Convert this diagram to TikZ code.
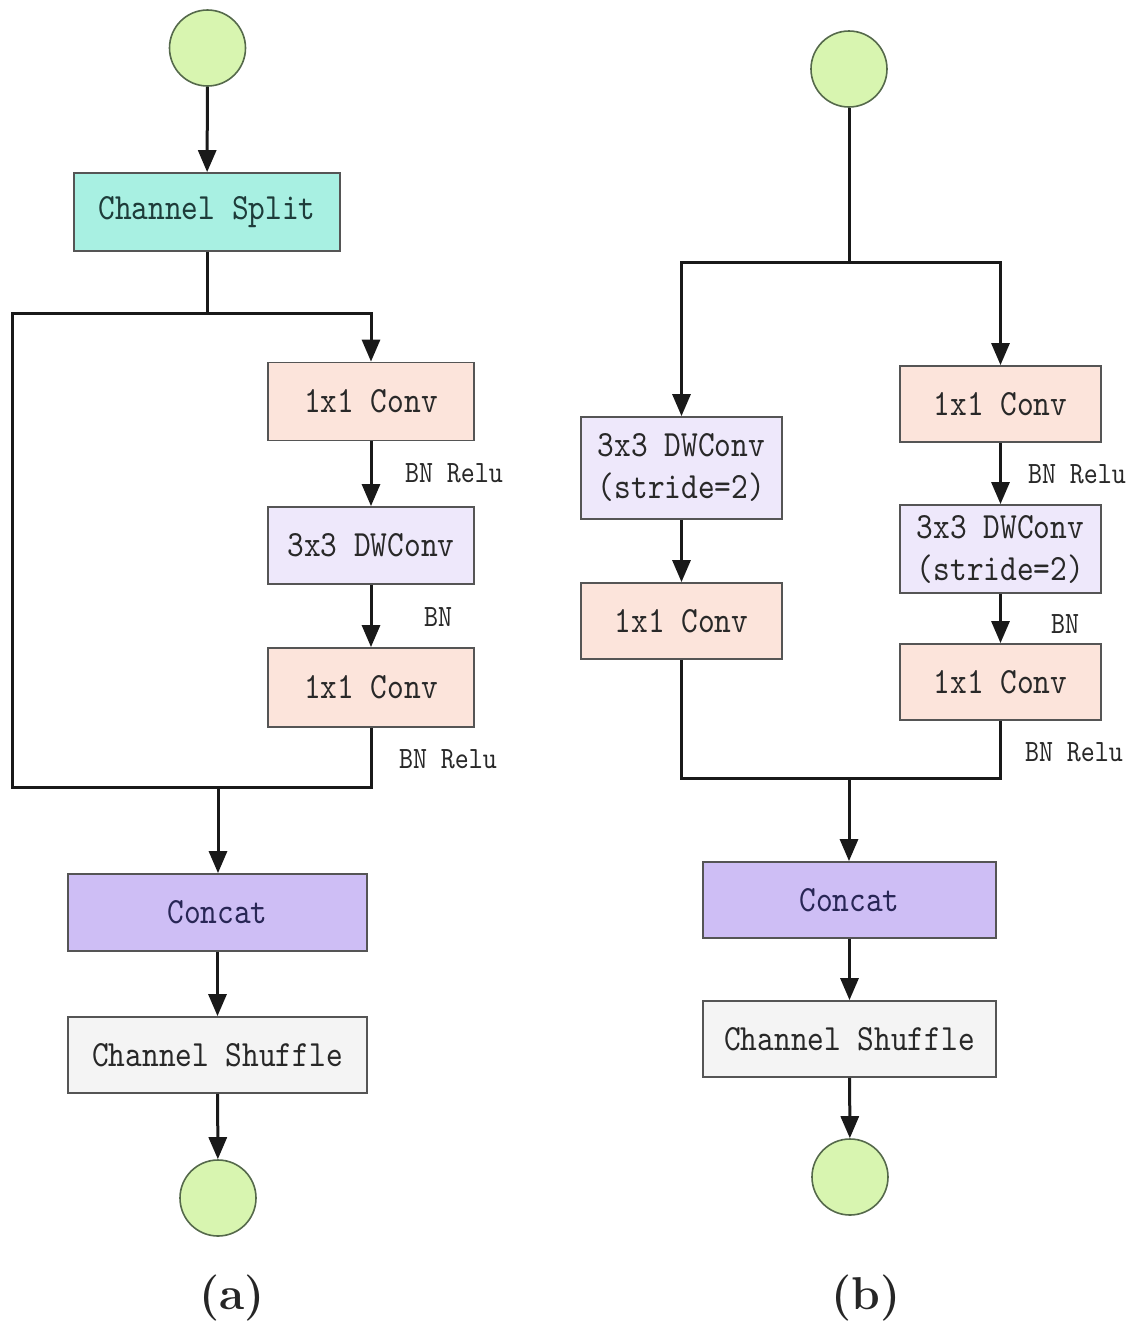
\documentclass[tikz,border=0pt]{standalone}
\usepackage{fontspec}
\usetikzlibrary{arrows.meta}
\newfontfamily\boxfont{lmmono10-regular.otf}[FakeStretch=0.86]

\definecolor{ioFill}{RGB}{216,245,176}
\definecolor{ioDraw}{RGB}{85,105,75}
\definecolor{splitFill}{RGB}{168,240,226}
\definecolor{splitText}{RGB}{30,60,58}
\definecolor{convFill}{RGB}{252,228,219}
\definecolor{dwFill}{RGB}{238,232,251}
\definecolor{catFill}{RGB}{206,190,245}
\definecolor{catText}{RGB}{40,38,85}
\definecolor{shufFill}{RGB}{244,244,244}
\definecolor{boxDraw}{RGB}{85,85,85}
\definecolor{txt}{RGB}{40,40,40}

\tikzset{
  io/.style={circle, draw=ioDraw, line width=1.6pt, fill=ioFill, minimum size=76pt, inner sep=0pt},
  block/.style={rectangle, draw=boxDraw, line width=1.8pt, inner sep=0pt, align=center,
    text=txt, font=\boxfont\fontsize{37}{42}\selectfont},
  wa/.style={block, minimum width=206pt},
  wb/.style={block, minimum width=201pt},
  conv/.style={fill=convFill, minimum height=78pt},
  dwc/.style={fill=dwFill},
  note/.style={text=txt, font=\boxfont\fontsize{31}{34}\selectfont, inner sep=0pt},
  link/.style={line width=3pt, draw=black!90, line join=miter},
  flow/.style={link, -{Triangle[length=22pt,width=18pt]}},
  tag/.style={font=\fontsize{46}{50}\selectfont\bfseries, text=black!85, inner sep=0pt}
}

\begin{document}
\begin{tikzpicture}[x=1pt,y=-1pt]
\useasboundingbox (0,0) rectangle (1142,1326);

% ---------------- unit (a) ----------------
\node[io] (ain) at (207.5,48) {};
\node[block, fill=splitFill, text=splitText, minimum width=266pt, minimum height=78pt] (split) at (207,212) {Channel Split};
\node[wa, conv] (ac1) at (371,401.5) {1x1 Conv};
\node[wa, dwc, minimum height=77pt] (adw) at (371,545.5) {3x3 DWConv};
\node[wa, conv, minimum height=79pt] (ac2) at (371,687.5) {1x1 Conv};
\node[block, fill=catFill, text=catText, minimum width=299pt, minimum height=77pt] (acat) at (217.5,912.5) {Concat};
\node[block, fill=shufFill, minimum width=299pt, minimum height=76pt] (ashuf) at (217.5,1055) {Channel Shuffle};
\node[io] (aout) at (218,1198) {};

\coordinate (aTL) at (12,313);
\coordinate (aBL) at (12,787);
\coordinate (aJoin) at (218,787);

\draw[flow] (ain) -- (split);
\draw[link] (split.south) -- (split.south |- aTL);
\draw[flow] (ac2.south) |- (aBL) -- (aTL) -| (ac1.north);
\draw[flow] (ac1) -- (adw);
\draw[flow] (adw) -- (ac2);
\draw[flow] (aJoin) -- (acat.north -| aJoin);
\draw[flow] (acat) -- (ashuf);
\draw[flow] (ashuf) -- (aout);

\node[note] (an1) at (454,473) {BN Relu};
\node[note] (an2) at (438,617) {BN};
\node[note] (an3) at (448,759) {BN Relu};

\node[tag] (la) at (232,1298) {(a)};

% ---------------- unit (b) ----------------
\node[io] (bin) at (849,69) {};
\node[wb, dwc, minimum height=102pt] (bdwl) at (681.5,468) {3x3 DWConv\\(stride=2)};
\node[wb, conv, minimum height=76pt] (bc1l) at (681.5,621) {1x1 Conv};
\node[wb, conv, minimum height=76pt] (bc1r) at (1000.5,404) {1x1 Conv};
\node[wb, dwc, minimum height=88pt] (bdwr) at (1000.5,549) {3x3 DWConv\\(stride=2)};
\node[wb, conv, minimum height=76pt] (bc2r) at (1000.5,682) {1x1 Conv};
\node[block, fill=catFill, text=catText, minimum width=293pt, minimum height=76pt] (bcat) at (849.5,900) {Concat};
\node[block, fill=shufFill, minimum width=293pt, minimum height=76pt] (bshuf) at (849.5,1039) {Channel Shuffle};
\node[io] (bout) at (850,1177) {};

\coordinate (bSplit) at (849,262);
\coordinate (bJoin) at (849,778);

\draw[link] (bin) -- (bSplit);
\draw[flow] (bSplit) -| (bdwl.north);
\draw[flow] (bSplit) -| (bc1r.north);
\draw[flow] (bdwl) -- (bc1l);
\draw[flow] (bc1r) -- (bdwr);
\draw[flow] (bdwr) -- (bc2r);
\draw[link] (bc1l.south) |- (bJoin) -| (bc2r.south);
\draw[flow] (bJoin) -- (bcat.north -| bJoin);
\draw[flow] (bcat) -- (bshuf);
\draw[flow] (bshuf) -- (bout);

\node[note] (bn1) at (1077,474) {BN Relu};
\node[note] (bn2) at (1065,624) {BN};
\node[note] (bn3) at (1074,752) {BN Relu};

\node[tag] (lb) at (866,1298) {(b)};
\end{tikzpicture}
\end{document}
